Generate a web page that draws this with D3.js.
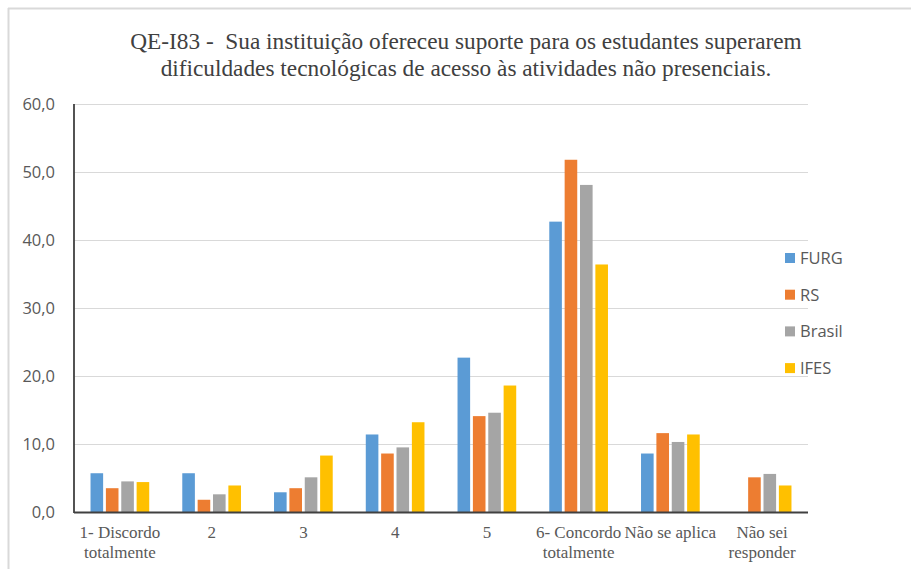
<!DOCTYPE html>
<html>
<head>
    <meta charset="utf-8">
    <title>QE-I83</title>
    <style>
        body { margin: 0; background-color: white; }
        svg { display: block; }
    </style>
</head>
<body>
<script src="https://cdn.jsdelivr.net/npm/d3@7"></script>
<script>
    // Dados
    var categories = ["1- Discordo totalmente", "2", "3", "4", "5", "6- Concordo totalmente", "Não se aplica", "Não sei responder"];
    var labelLines = [["1- Discordo", "totalmente"], ["2"], ["3"], ["4"], ["5"], ["6- Concordo", "totalmente"], ["Não se aplica"], ["Não sei", "responder"]];
    var seriesNames = ["FURG", "RS", "Brasil", "IFES"];
    var furg   = [5.7, 5.7, 2.9, 11.4, 22.7, 42.7, 8.6, 0];
    var rs     = [3.5, 1.8, 3.5, 8.6, 14.1, 51.8, 11.6, 5.1];
    var brasil = [4.5, 2.6, 5.1, 9.5, 14.6, 48.1, 10.3, 5.6];
    var ifes   = [4.4, 3.9, 8.3, 13.2, 18.6, 36.4, 11.4, 3.9];
    var yTicks = [0, 10, 20, 30, 40, 50, 60];
    var colors = ["#5b9bd5", "#ed7d31", "#a5a5a5", "#ffc000"];

    var values = [furg, rs, brasil, ifes];

    var width = 911, height = 569;
    var plotLeft = 74, plotRight = 808, plotTop = 104, plotBottom = 512;

    var svg = d3.select("body").append("svg")
        .attr("width", width)
        .attr("height", height);

    // bordure de la zone du graphique (haut et gauche seulement)
    svg.append("line").attr("x1", 8).attr("x2", width).attr("y1", 8.5).attr("y2", 8.5)
        .attr("stroke", "#d9d9d9").attr("stroke-width", 2);
    svg.append("line").attr("x1", 8.5).attr("x2", 8.5).attr("y1", 8).attr("y2", height)
        .attr("stroke", "#d9d9d9").attr("stroke-width", 2);

    var x0 = d3.scaleBand().domain(categories).range([plotLeft, plotRight])
        .paddingInner(0.3).paddingOuter(0.15);
    var x1 = d3.scaleBand().domain(seriesNames).range([0, x0.bandwidth()]).padding(0.18);
    var y = d3.scaleLinear().domain([0, 60]).range([plotBottom, plotTop]);

    // grille
    svg.append("g").selectAll("line").data(yTicks.slice(1)).enter().append("line")
        .attr("x1", plotLeft).attr("x2", plotRight)
        .attr("y1", function(d) { return y(d) + 0.5; })
        .attr("y2", function(d) { return y(d) + 0.5; })
        .attr("stroke", "#d9d9d9").attr("stroke-width", 1.2);

    // axe Y (étiquettes seulement)
    var yAxis = svg.append("g")
        .attr("transform", "translate(" + (plotLeft - 16) + ",0)")
        .call(d3.axisLeft(y).tickValues(yTicks).tickSize(0)
            .tickFormat(function(d) { return d3.format(".1f")(d).replace(".", ","); }));
    yAxis.select(".domain").remove();
    yAxis.selectAll("text")
        .attr("font-family", "'Open Sans', sans-serif")
        .attr("font-size", 16.5)
        .attr("fill", "#595959");

    // barres
    var groups = svg.append("g").selectAll("g").data(categories).enter().append("g")
        .attr("transform", function(d) { return "translate(" + x0(d) + ",0)"; });
    groups.selectAll("rect")
        .data(function(d, i) {
            return seriesNames.map(function(s, j) { return { serie: s, v: values[j][i], c: colors[j] }; })
                .filter(function(e) { return e.v > 0; });
        })
        .enter().append("rect")
        .attr("x", function(d) { return x1(d.serie); })
        .attr("y", function(d) { return y(d.v); })
        .attr("width", x1.bandwidth())
        .attr("height", function(d) { return y(0) - y(d.v); })
        .attr("fill", function(d) { return d.c; });

    // axes
    svg.append("line").attr("x1", plotLeft).attr("x2", plotLeft).attr("y1", plotTop).attr("y2", plotBottom + 1)
        .attr("stroke", "#404040").attr("stroke-width", 1.8);
    svg.append("line").attr("x1", plotLeft).attr("x2", plotRight).attr("y1", plotBottom + 0.5).attr("y2", plotBottom + 0.5)
        .attr("stroke", "#404040").attr("stroke-width", 1.8);

    // étiquettes X
    var xl = svg.append("g").selectAll("text").data(categories).enter().append("text")
        .attr("x", function(d) { return x0(d) + x0.bandwidth() / 2; })
        .attr("y", 538)
        .attr("text-anchor", "middle")
        .attr("font-family", "'Liberation Serif', serif")
        .attr("font-size", 17)
        .attr("fill", "#595959");
    xl.each(function(d, i) {
        var t = d3.select(this);
        labelLines[i].forEach(function(line, k) {
            t.append("tspan")
                .attr("x", x0(d) + x0.bandwidth() / 2)
                .attr("dy", k == 0 ? 0 : 20)
                .text(line);
        });
    });

    // titre
    var title = svg.append("text")
        .attr("x", 466).attr("y", 49)
        .attr("text-anchor", "middle")
        .attr("font-family", "'Liberation Serif', serif")
        .attr("font-size", 23.3)
        .attr("fill", "#404040");
    title.append("tspan").attr("x", 466).attr("dy", 0).attr("xml:space", "preserve")
        .text("QE-I83 -  Sua instituição ofereceu suporte para os estudantes superarem");
    title.append("tspan").attr("x", 466).attr("dy", 27)
        .text("dificuldades tecnológicas de acesso às atividades não presenciais.");

    // légende
    var legend = svg.append("g").selectAll("g").data(seriesNames).enter().append("g")
        .attr("transform", function(d, i) { return "translate(785," + (258 + i * 36.7) + ")"; });
    legend.append("rect")
        .attr("x", 0).attr("y", -5).attr("width", 10).attr("height", 10)
        .attr("fill", function(d, i) { return colors[i]; });
    legend.append("text")
        .attr("x", 15).attr("y", 6)
        .attr("font-family", "'Open Sans', sans-serif")
        .attr("font-size", 16.5)
        .attr("fill", "#595959")
        .text(function(d) { return d; });
</script>
</body>
</html>
